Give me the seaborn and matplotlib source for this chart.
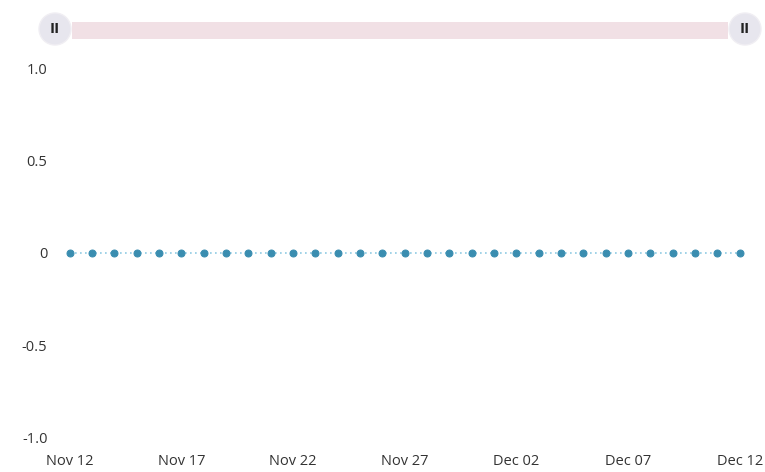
import pandas as pd
import matplotlib.pyplot as plt
import matplotlib.dates as mdates
from matplotlib.patches import Circle, FancyBboxPatch
import seaborn as sns

# --- DATOS ---
fechas = pd.date_range("2023-11-12", "2023-12-12", freq="D")
valores = [0] * len(fechas)
y_ticks = [-1.0, -0.5, 0, 0.5, 1.0]
y_etiquetas = ["-1.0", "-0.5", "0", "0.5", "1.0"]
x_ticks = pd.date_range("2023-11-12", "2023-12-12", freq="5D")

df = pd.DataFrame({"fecha": fechas, "valor": valores})

sns.set_style("white")
plt.rcParams["font.family"] = ["Open Sans", "DejaVu Sans"]

fig = plt.figure(figsize=(7.65, 4.72), dpi=100)
ax = fig.add_axes([0.091, 0.074, 0.876, 0.780])

sns.lineplot(data=df, x="fecha", y="valor", ax=ax, color="#8fcbe3",
             linestyle=(0, (1, 2)), linewidth=1.2, marker="o", markersize=5,
             markerfacecolor="#3a8db0", markeredgecolor="#3a8db0")

ax.set_ylim(-1.0, 1.0)
ax.set_xlim(fechas[0], fechas[-1])
ax.set_yticks(y_ticks)
ax.set_yticklabels(y_etiquetas)
ax.set_xticks(x_ticks)
ax.xaxis.set_major_formatter(mdates.DateFormatter("%b %d"))
ax.tick_params(axis="x", length=0, pad=12, labelsize=10.5, colors="#333333")
ax.tick_params(axis="y", length=0, pad=16, labelsize=10.5, colors="#333333")
ax.set_xlabel("")
ax.set_ylabel("")
for s in ax.spines.values():
    s.set_visible(False)
ax.grid(False)
for ln in ax.lines:
    ln.set_clip_on(False)

# --- Barra de desplazamiento (scrollbar) ---
W, H = 765, 472
barra = FancyBboxPatch((72 / W, 1 - 39 / H), (728 - 72) / W, 17 / H,
                       boxstyle="square,pad=0", transform=fig.transFigure,
                       facecolor="#f1e0e5", edgecolor="none")
fig.patches.append(barra)
for cx in (55, 745):
    c = Circle((cx, H - 29), 16, transform=None, facecolor="#e7e6ee",
               edgecolor="#f0eef3", linewidth=1)
    fig.patches.append(c)
    fig.text(cx / W, 1 - 29 / H, "II", ha="center", va="center",
             fontsize=11, fontweight="bold", color="#222222")

plt.savefig("out.png", dpi=100)
